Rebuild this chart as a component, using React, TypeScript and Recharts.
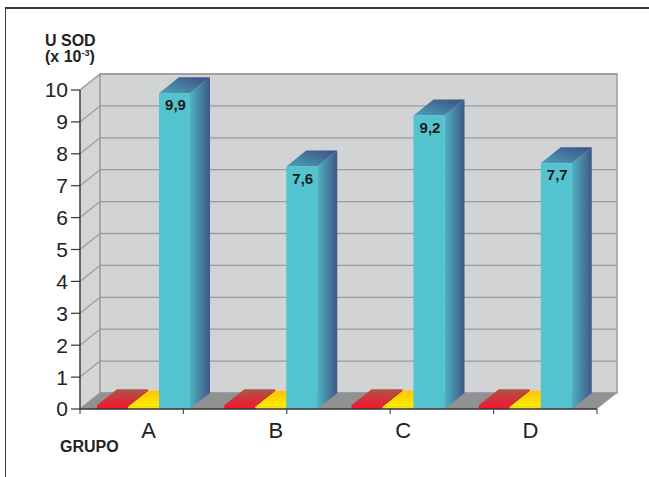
import { BarChart, Bar, XAxis, YAxis, ReferenceArea, LabelList } from "recharts";

// Activity per group (U SOD x 10^-3)
const GROUPS = ["A", "B", "C", "D"];
const SERIES_RED = [0.12, 0.12, 0.12, 0.12];
const SERIES_YELLOW = [0.07, 0.07, 0.07, 0.07];
const SERIES_SOD = [9.9, 7.6, 9.2, 7.7];
const Y_TICKS = [0, 1, 2, 3, 4, 5, 6, 7, 8, 9, 10];

const W = 649;
const H = 477;
const X_AXIS_H = 30;
const MARGIN = { top: 90, right: 52, bottom: 68 - X_AXIS_H, left: 0 };
const Y_AXIS_W = 80;
// 3D depth offset
const DX = 20;
const DY = 16;
const FONT = "'Liberation Sans', Arial, Helvetica, sans-serif";

const data = GROUPS.map((g, i) => ({
  grupo: g,
  red: SERIES_RED[i],
  yellow: SERIES_YELLOW[i],
  sod: SERIES_SOD[i],
}));

const fmt = (v: number) => v.toFixed(1).replace(".", ",");

// back wall, side wall, floor and the grid lines running over them
function Room({ y, height }: any) {
  const left = MARGIN.left + Y_AXIS_W;
  const right = W - MARGIN.right;
  const top = y;
  const bottom = y + height;
  const max = Y_TICKS[Y_TICKS.length - 1];
  const xTicks = [0, 1, 2, 3, 4, 5].map((i) => left + (i * (right - left)) / 5);
  return (
    <g>
      <defs>
        <linearGradient id="sodSide" x1="0" y1="0" x2="1" y2="0">
          <stop offset="0%" stopColor="#4fb3c0" />
          <stop offset="100%" stopColor="#3e5788" />
        </linearGradient>
        <linearGradient id="sodTop" x1="0" y1="1" x2="1" y2="0">
          <stop offset="0%" stopColor="#4aa2b6" />
          <stop offset="100%" stopColor="#404d86" />
        </linearGradient>
        <linearGradient id="redTop" x1="0" y1="1" x2="0" y2="0">
          <stop offset="0%" stopColor="#ec1c34" />
          <stop offset="100%" stopColor="#aa5846" />
        </linearGradient>
        <linearGradient id="yellowTop" x1="0" y1="1" x2="0" y2="0">
          <stop offset="0%" stopColor="#ffee00" />
          <stop offset="100%" stopColor="#ffc200" />
        </linearGradient>
      </defs>
      {/* side wall */}
      <polygon
        points={`${left},${top} ${left + DX},${top - DY} ${left + DX},${bottom - DY} ${left},${bottom}`}
        fill="#d4d5d7"
        stroke="#a3a4a6"
        strokeWidth={1}
      />
      {/* back wall */}
      <rect
        x={left + DX}
        y={top - DY}
        width={right - left}
        height={height}
        fill="#d2d3d5"
        stroke="#9c9d9f"
        strokeWidth={1.5}
      />
      {Y_TICKS.map((v) => {
        const yy = top + height * (1 - v / max);
        return (
          <g key={v} stroke="#9a9b9d" strokeWidth={1.3}>
            <line x1={left} y1={yy} x2={left + DX} y2={yy - DY} />
            <line x1={left + DX} y1={yy - DY} x2={right + DX} y2={yy - DY} />
          </g>
        );
      })}
      {/* floor */}
      <polygon
        points={`${left},${bottom} ${left + DX},${bottom - DY} ${right + DX},${bottom - DY} ${right},${bottom}`}
        fill="#909193"
      />
      {xTicks.map((x, i) => (
        <line key={i} x1={x} y1={bottom} x2={x} y2={bottom + 5} stroke="#555" strokeWidth={1.2} />
      ))}
    </g>
  );
}

function Box3D(props: any) {
  const { x, y, width, height, front, top, side } = props;
  if (!height || height <= 0) return null;
  const r = x + width;
  const b = y + height;
  return (
    <g>
      <polygon
        points={`${r},${y} ${r + DX},${y - DY} ${r + DX},${b - DY} ${r},${b}`}
        fill={side}
      />
      <polygon
        points={`${x},${y} ${x + DX},${y - DY} ${r + DX},${y - DY} ${r},${y}`}
        fill={top}
      />
      <rect x={x} y={y} width={width} height={height} fill={front} />
    </g>
  );
}

function ValueLabel(props: any) {
  const { x, y, width, value } = props;
  return (
    <text
      x={x + width / 2 + 1}
      y={y + 17}
      textAnchor="middle"
      fontFamily={FONT}
      fontWeight="bold"
      fontSize={15}
      fill="#1c1c1c"
    >
      {fmt(value)}
    </text>
  );
}

function GroupTick(props: any) {
  const { x, y, payload } = props;
  return (
    <text x={x + 5} y={y} dy="0.71em" textAnchor="middle" fontFamily={FONT} fontSize={22} fill="#222">
      {payload.value}
    </text>
  );
}

export default function App() {
  return (
    <div style={{ position: "relative", width: W, height: H, background: "#fff" }}>
      <style>{"body{margin:0}"}</style>
      <div
        style={{
          position: "absolute",
          left: 5,
          top: 7,
          right: 0,
          bottom: 0,
          borderTop: "2px solid #3a3a3a",
          borderLeft: "1.5px solid #3a3a3a",
        }}
      />
      <div
        style={{
          position: "absolute",
          left: 45,
          top: 33,
          fontFamily: FONT,
          fontWeight: "bold",
          fontSize: 16,
          lineHeight: "16px",
          color: "#222",
        }}
      >
        <div>U SOD</div>
        <div>
          (x 10<sup style={{ fontSize: 9, verticalAlign: "6px", lineHeight: 0 }}>-3</sup>)
        </div>
      </div>
      <div
        style={{
          position: "absolute",
          left: 60,
          top: 438,
          fontFamily: FONT,
          fontWeight: "bold",
          fontSize: 16,
          color: "#222",
        }}
      >
        GRUPO
      </div>
      <BarChart
        width={W}
        height={H}
        data={data}
        margin={MARGIN}
        barSize={31}
        barGap={0}
        style={{ position: "absolute", left: 0, top: 0 }}
      >
        <ReferenceArea y1={0} y2={10} shape={(p: any) => <Room {...p} />} />
        <XAxis
          dataKey="grupo"
          height={X_AXIS_H}
          padding={{ left: 0, right: 8 }}
          axisLine={{ stroke: "#333", strokeWidth: 1.3 }}
          tickLine={false}
          tickSize={0}
          tickMargin={13}
          tick={<GroupTick />}
          interval={0}
        />
        <YAxis
          width={Y_AXIS_W}
          domain={[0, 10]}
          ticks={Y_TICKS}
          interval={0}
          axisLine={{ stroke: "#333", strokeWidth: 1.3 }}
          tickLine={{ stroke: "#333", strokeWidth: 1.2 }}
          tickSize={9}
          tickMargin={3}
          tick={{ fontFamily: FONT, fontSize: 21, fill: "#222" }}
        />
        <Bar
          dataKey="red"
          isAnimationActive={false}
          shape={(p: any) => <Box3D {...p} front="#ee1b2d" top="url(#redTop)" side="#b0242e" />}
        />
        <Bar
          dataKey="yellow"
          isAnimationActive={false}
          shape={(p: any) => <Box3D {...p} front="#ffe400" top="url(#yellowTop)" side="#e0b800" />}
        />
        <Bar
          dataKey="sod"
          isAnimationActive={false}
          shape={(p: any) => <Box3D {...p} front="#53c4cf" top="url(#sodTop)" side="url(#sodSide)" />}
        >
          <LabelList dataKey="sod" content={<ValueLabel />} />
        </Bar>
      </BarChart>
    </div>
  );
}
